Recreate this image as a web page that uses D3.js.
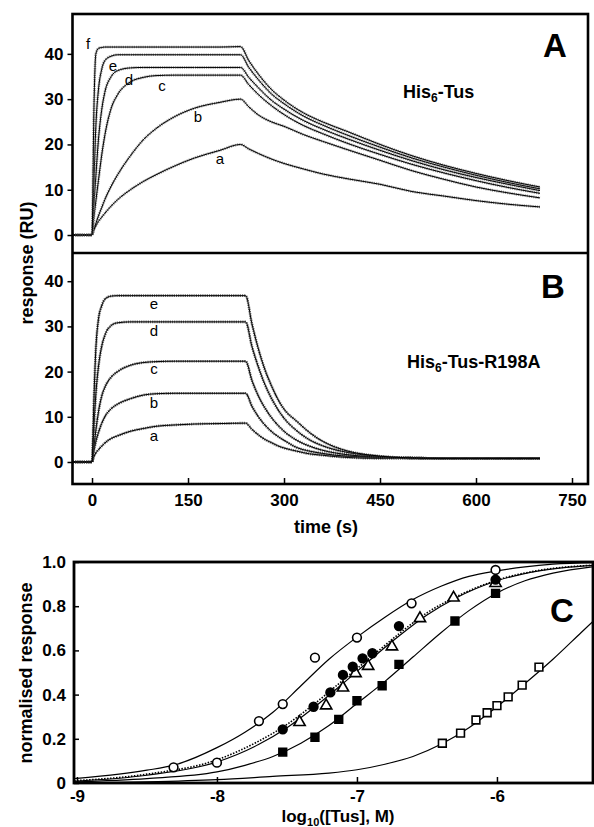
<!DOCTYPE html>
<html>
<head>
<meta charset="utf-8">
<script src="https://cdn.jsdelivr.net/npm/d3@7"></script>
<style>
  body { margin: 0; background: #fff; }
  svg text { font-family: "Liberation Sans", Arial, sans-serif; }
  .tick text { font-weight: bold; font-size: 17px; }
</style>
</head>
<body>
<svg id="svg" width="594" height="827"></svg>
<script>
/* 資料 : panel A (His6-Tus) */
var timesA = [-30, -15, 0, 3, 6, 10, 15, 20, 30, 40, 60, 80, 100, 130, 160, 200, 232, 245, 260, 280, 300, 330, 360, 400, 450, 500, 550, 600, 650, 700];
var fA = [0, 0, 0, 28, 40, 41.2, 41.4, 41.5, 41.5, 41.5, 41.5, 41.5, 41.5, 41.5, 41.5, 41.5, 41.6, 38.5, 35.5, 32.2, 29.8, 27, 25, 22.8, 20, 17.5, 15.4, 13.6, 12, 10.6];
var eA = [0, 0, 0, 12, 24, 32, 36.5, 38.5, 39.5, 39.8, 39.8, 39.8, 39.8, 39.8, 39.8, 39.8, 39.8, 37, 34.3, 31.2, 29, 26.3, 24.3, 22, 19.4, 17, 15, 13.2, 11.6, 10.2];
var dA = [0, 0, 0, 7, 13, 21, 27.5, 31.5, 35, 36.3, 36.9, 37, 37, 37, 37, 37, 37, 34.8, 32.5, 29.8, 27.8, 25.3, 23.4, 21.2, 18.7, 16.4, 14.4, 12.7, 11.2, 9.8];
var cA = [0, 0, 0, 4, 7.5, 12, 17.5, 22, 28, 31, 33.8, 34.8, 35.2, 35.3, 35.3, 35.3, 35.3, 33.2, 31, 28.6, 26.6, 24.2, 22.4, 20.2, 17.8, 15.6, 13.7, 12, 10.5, 9.2];
var bA = [0, 0, 0, 1.2, 2.5, 4.2, 6, 7.8, 10.8, 13.3, 17.5, 21, 23.5, 26.2, 28, 29.3, 30, 28.3, 26.5, 25, 24, 22.2, 20.7, 18.8, 16.5, 14.2, 12.3, 10.6, 9.3, 8.2];
var aA = [0, 0, 0, 1.2, 2, 3, 3.9, 4.8, 6.4, 7.8, 10, 11.8, 13.3, 15.3, 17, 18.7, 20, 19, 18, 16.8, 15.8, 14.6, 13.5, 12.4, 11.2, 9.6, 8.6, 7.6, 6.8, 6.2];

/* 資料 : panel B (His6-Tus-R198A) */
var timesB = [-30, -15, 0, 3, 6, 10, 15, 20, 30, 40, 60, 80, 100, 130, 160, 200, 240, 250, 260, 270, 280, 290, 300, 320, 340, 360, 380, 400, 450, 500, 550, 600, 650, 700];
var eB = [0, 0, 0, 14, 25, 31.5, 34.5, 36, 36.7, 36.8, 36.8, 36.8, 36.8, 36.8, 36.8, 36.8, 36.8, 30.5, 25, 20.5, 17, 14, 11.7, 9, 6.5, 4.6, 3.3, 2.4, 1.3, 0.9, 0.8, 0.8, 0.8, 0.8];
var dB = [0, 0, 0, 8, 15, 21, 25.5, 28, 30.2, 30.8, 31, 31, 31, 31, 31, 31, 31, 25.5, 21, 17.2, 14.2, 11.7, 9.7, 6.9, 4.9, 3.6, 2.7, 2.1, 1.2, 0.9, 0.8, 0.8, 0.8, 0.8];
var cB = [0, 0, 0, 3.5, 7, 11, 14.5, 16.5, 18.8, 20, 21.4, 22, 22.2, 22.3, 22.3, 22.3, 22.3, 18, 14.6, 12, 9.9, 8.2, 6.8, 4.8, 3.5, 2.6, 2, 1.6, 1.1, 0.9, 0.8, 0.8, 0.8, 0.8];
var bB = [0, 0, 0, 2.5, 4.5, 6.5, 8.5, 10, 11.8, 12.8, 14, 14.8, 15.1, 15.2, 15.2, 15.2, 15.2, 12.3, 10, 8.2, 6.8, 5.7, 4.8, 3.2, 2.4, 1.9, 1.5, 1.3, 1, 0.9, 0.8, 0.8, 0.8, 0.8];
var aB = [0, 0, 0, 1.2, 2, 2.7, 3.5, 4.2, 5.2, 5.8, 6.8, 7.4, 7.9, 8.2, 8.4, 8.5, 8.6, 7.2, 6, 5, 4.3, 3.6, 3.1, 2.4, 1.8, 1.5, 1.2, 1, 0.8, 0.8, 0.8, 0.8, 0.8, 0.8];

var tickTime = [0, 150, 300, 450, 600, 750];
var tickRU = [0, 10, 20, 30, 40];

/* 資料 : panel C (log10 [Tus] vs normalised response) */
var openCircleX = [-8.31, -8.0, -7.70, -7.53, -7.30, -7.0, -6.61, -6.01];
var openCircleY = [0.071, 0.092, 0.28, 0.357, 0.567, 0.658, 0.813, 0.964];
var filledCircleX = [-7.53, -7.31, -7.19, -7.10, -7.03, -6.96, -6.89, -6.70, -6.01];
var filledCircleY = [0.243, 0.345, 0.41, 0.489, 0.526, 0.564, 0.587, 0.71, 0.92];
var triangleX = [-7.41, -7.22, -7.10, -7.01, -6.92, -6.75, -6.55, -6.31, -6.01];
var triangleY = [0.275, 0.35, 0.431, 0.496, 0.529, 0.617, 0.745, 0.838, 0.904];
var filledSquareX = [-7.53, -7.30, -7.13, -7.00, -6.82, -6.70, -6.30, -6.01];
var filledSquareY = [0.14, 0.207, 0.288, 0.372, 0.44, 0.537, 0.733, 0.858];
var openSquareX = [-6.39, -6.26, -6.15, -6.07, -6.00, -5.92, -5.82, -5.70];
var openSquareY = [0.18, 0.226, 0.285, 0.318, 0.35, 0.39, 0.443, 0.524];

// fitted curves in C
var fitOpenCircleX = [-9.02, -8.7, -8.5, -8.3, -8.0, -7.8, -7.6, -7.4, -7.2, -7.0, -6.8, -6.6, -6.4, -6.2, -6.0, -5.8, -5.6, -5.3];
var fitOpenCircleY = [0.02, 0.04, 0.058, 0.082, 0.16, 0.23, 0.32, 0.44, 0.56, 0.66, 0.75, 0.83, 0.89, 0.935, 0.96, 0.978, 0.99, 0.997];
var fitMidX = [-9.02, -8.5, -8.0, -7.7, -7.5, -7.3, -7.1, -6.9, -6.7, -6.5, -6.3, -6.0, -5.7, -5.3];
var fitFilledCircleY = [0.008, 0.035, 0.095, 0.175, 0.25, 0.345, 0.45, 0.56, 0.665, 0.76, 0.835, 0.915, 0.96, 0.985];
var fitTriangleY = [0.01, 0.04, 0.105, 0.19, 0.265, 0.36, 0.465, 0.57, 0.675, 0.77, 0.84, 0.918, 0.962, 0.986];
var fitFilledSquareX = [-9.02, -8.5, -8.0, -7.8, -7.6, -7.4, -7.2, -7.0, -6.8, -6.6, -6.4, -6.2, -6.0, -5.8, -5.6, -5.3];
var fitFilledSquareY = [0.005, 0.02, 0.05, 0.08, 0.12, 0.18, 0.26, 0.36, 0.46, 0.57, 0.68, 0.78, 0.86, 0.915, 0.95, 0.98];
var fitOpenSquareX = [-9.02, -8.5, -8.0, -7.6, -7.2, -7.0, -6.8, -6.6, -6.4, -6.2, -6.0, -5.8, -5.6, -5.4, -5.3];
var fitOpenSquareY = [0.0, 0.005, 0.015, 0.03, 0.045, 0.06, 0.085, 0.12, 0.175, 0.25, 0.345, 0.45, 0.56, 0.68, 0.74];

var tickLog = [-9, -8, -7, -6];
var tickNorm = [0, 0.2, 0.4, 0.6, 0.8, 1.0];


// 小工具 : 一次設定多個屬性
d3.selection.prototype.attrs = function (o) {
  var sel = this;
  Object.keys(o).forEach(function (k) { sel.attr(k, o[k]); });
  return sel;
};

/* 基本參數 */
var box = { left: 72.5, right: 588, topA: 14, mid: 253, bottomB: 484 };
var boxC = { left: 74, right: 593, top: 562, bottom: 783 };

var s = d3.select('#svg');

//縮放比例
var scaleT = d3.scaleLinear().domain([-30.5, 775]).range([box.left, box.right]);
var scaleA = d3.scaleLinear().domain([-3.97, 48.8]).range([box.mid, box.topA]);
var scaleB = d3.scaleLinear().domain([-4.87, 46.24]).range([box.bottomB, box.mid]);
var scaleLog = d3.scaleLinear().domain([-9.021, -5.314]).range([boxC.left, boxC.right]);
var scaleN = d3.scaleLinear().domain([0, 1]).range([boxC.bottom, boxC.top]);

function drawCurves(g, times, series, sy, rawColor) {
  var line = d3.line()
    .x(function (d) { return scaleT(d[0]); })
    .y(function (d) { return sy(d[1]); })
    .curve(d3.curveMonotoneX);
  series.forEach(function (vals) {
    var pts = times.map(function (t, i) { return [t, vals[i]]; });
    // raw trace (grainy)
    g.append('path').attr('d', line(pts))
      .attrs({ fill: 'none', stroke: rawColor, 'stroke-width': 2.6, 'stroke-dasharray': '1.3 0.9', opacity: 0.8 });
    // fit
    g.append('path').attr('d', line(pts))
      .attrs({ fill: 'none', stroke: '#000', 'stroke-width': 1 });
  });
}

/* panel A */
var gA = s.append('g');
drawCurves(gA, timesA, [aA, bA, cA, dA, eA, fA], scaleA, '#777');

/* panel B */
var gB = s.append('g');
drawCurves(gB, timesB, [aB, bB, cB, dB, eB], scaleB, '#444');

// curve letters
var lettersA = [['f', 88, 49], ['e', 113, 71], ['d', 129, 85], ['c', 162, 91], ['b', 198, 122], ['a', 220, 164]];
var lettersB = [['e', 154, 309], ['d', 154, 336], ['c', 154, 374], ['b', 154, 408], ['a', 154, 441]];
s.selectAll('text.letter').data(lettersA.concat(lettersB)).enter()
  .append('text').attr('class', 'letter')
  .attrs({ x: function (d) { return d[1]; }, y: function (d) { return d[2]; }, 'text-anchor': 'middle', 'font-size': 15 })
  .text(function (d) { return d[0]; });

// axes A/B
var axA = s.append('g').attr('transform', 'translate(' + box.left + ',0)')
  .call(d3.axisLeft(scaleA).tickValues(tickRU).tickSize(5).tickPadding(4));
var axB = s.append('g').attr('transform', 'translate(' + box.left + ',0)')
  .call(d3.axisLeft(scaleB).tickValues(tickRU).tickSize(5).tickPadding(4));
var axT = s.append('g').attr('transform', 'translate(0,' + box.bottomB + ')')
  .call(d3.axisBottom(scaleT).tickValues(tickTime).tickSize(-6).tickPadding(10));
[axA, axB, axT].forEach(function (ax) {
  ax.select('.domain').remove();
  ax.selectAll('.tick line').attr('stroke-width', 1.5);
});

// frames
s.append('rect').attrs({ x: box.left, y: box.topA, width: box.right - box.left, height: box.bottomB - box.topA, fill: 'none', stroke: '#000', 'stroke-width': 2.6 });
s.append('line').attrs({ x1: box.left, x2: box.right, y1: box.mid, y2: box.mid, stroke: '#000', 'stroke-width': 2.6 });

// labels
s.append('text').attrs({ x: 555, y: 57, 'text-anchor': 'middle', 'font-size': 33, 'font-weight': 'bold' }).text('A');
s.append('text').attrs({ x: 553, y: 298, 'text-anchor': 'middle', 'font-size': 33, 'font-weight': 'bold' }).text('B');
var tA = s.append('text').attrs({ x: 403, y: 98, 'font-size': 18, 'font-weight': 'bold' });
tA.append('tspan').text('His');
tA.append('tspan').attrs({ 'font-size': 12, dy: 4 }).text('6');
tA.append('tspan').attrs({ dy: -4 }).text('-Tus');
var tB = s.append('text').attrs({ x: 407, y: 368, 'font-size': 18, 'font-weight': 'bold' });
tB.append('tspan').text('His');
tB.append('tspan').attrs({ 'font-size': 12, dy: 4 }).text('6');
tB.append('tspan').attrs({ dy: -4 }).text('-Tus-R198A');

s.append('text').attrs({ transform: 'translate(33,263) rotate(-90)', 'text-anchor': 'middle', 'font-size': 18, 'font-weight': 'bold' }).text('response (RU)');
s.append('text').attrs({ x: 326, y: 533, 'text-anchor': 'middle', 'font-size': 18, 'font-weight': 'bold' }).text('time (s)');


/* panel C */
var gC = s.append('g');
var lineC = d3.line()
  .x(function (d) { return scaleLog(d[0]); })
  .y(function (d) { return scaleN(d[1]); })
  .curve(d3.curveMonotoneX);
function zip(xs, ys) { return xs.map(function (x, i) { return [x, ys[i]]; }); }

gC.append('path').attr('d', lineC(zip(fitOpenCircleX, fitOpenCircleY))).attrs({ fill: 'none', stroke: '#000', 'stroke-width': 1.2 });
gC.append('path').attr('d', lineC(zip(fitMidX, fitFilledCircleY))).attrs({ fill: 'none', stroke: '#000', 'stroke-width': 1.2 });
gC.append('path').attr('d', lineC(zip(fitMidX, fitTriangleY))).attrs({ fill: 'none', stroke: '#000', 'stroke-width': 1.6, 'stroke-dasharray': '1.5 1.5' });
gC.append('path').attr('d', lineC(zip(fitFilledSquareX, fitFilledSquareY))).attrs({ fill: 'none', stroke: '#000', 'stroke-width': 1.2 });
gC.append('path').attr('d', lineC(zip(fitOpenSquareX, fitOpenSquareY))).attrs({ fill: 'none', stroke: '#000', 'stroke-width': 1.2 });

function markers(xs, ys, type, filled) {
  gC.selectAll(null).data(zip(xs, ys)).enter().append('path')
    .attrs({
      d: d3.symbol().type(type).size(type === d3.symbolTriangle ? 55 : 60),
      transform: function (d) { return 'translate(' + scaleLog(d[0]) + ',' + scaleN(d[1]) + ')'; },
      fill: filled ? '#000' : '#fff',
      stroke: '#000',
      'stroke-width': 1.6
    });
}
markers(openSquareX, openSquareY, d3.symbolSquare, false);
markers(filledSquareX, filledSquareY, d3.symbolSquare, true);
markers(triangleX, triangleY, d3.symbolTriangle, false);
markers(filledCircleX, filledCircleY, d3.symbolCircle, true);
markers(openCircleX, openCircleY, d3.symbolCircle, false);

var axN = s.append('g').attr('transform', 'translate(' + boxC.left + ',0)')
  .call(d3.axisLeft(scaleN).tickValues(tickNorm).tickSize(-5).tickPadding(8)
    .tickFormat(function (d) { return d === 0 ? '0' : d3.format('.1f')(d); }));
var axL = s.append('g').attr('transform', 'translate(0,' + boxC.bottom + ')')
  .call(d3.axisBottom(scaleLog).tickValues(tickLog).tickSize(-6).tickPadding(7)
    .tickFormat(function (d) { return String(d); }));
[axN, axL].forEach(function (ax) {
  ax.select('.domain').remove();
  ax.selectAll('.tick line').attr('stroke-width', 1.5);
});

s.append('rect').attrs({ x: boxC.left, y: boxC.top, width: boxC.right - boxC.left, height: boxC.bottom - boxC.top, fill: 'none', stroke: '#000', 'stroke-width': 2.8 });
s.append('text').attrs({ x: 562, y: 622, 'text-anchor': 'middle', 'font-size': 33, 'font-weight': 'bold' }).text('C');

s.append('text').attrs({ transform: 'translate(32,673) rotate(-90)', 'text-anchor': 'middle', 'font-size': 18, 'font-weight': 'bold' }).text('normalised response');
var tL = s.append('text').attrs({ x: 338, y: 822, 'text-anchor': 'middle', 'font-size': 17, 'font-weight': 'bold' });
tL.append('tspan').text('log');
tL.append('tspan').attrs({ 'font-size': 11, dy: 4 }).text('10');
tL.append('tspan').attrs({ dy: -4 }).text('([Tus], M)');
</script>
</body>
</html>
